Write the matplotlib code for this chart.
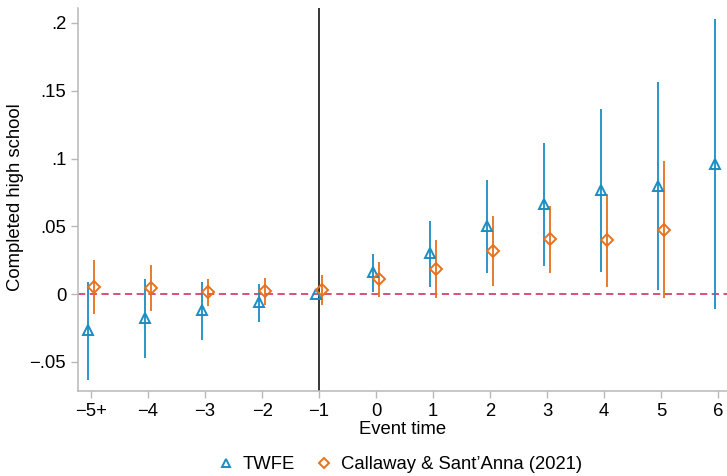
import numpy as np
from matplotlib import pyplot as plt
from matplotlib.lines import Line2D

plt.rcParams['font.family'] = ['Liberation Sans', 'DejaVu Sans']

# event times (-5 is binned as "-5+")
event_time = [-5, -4, -3, -2, -1, 0, 1, 2, 3, 4, 5, 6]
tick_labels = ['\u22125+', '\u22124', '\u22123', '\u22122', '\u22121', '0', '1', '2', '3', '4', '5', '6']

# TWFE estimates and 95% CI (reference period -1 has no CI)
twfe_est = [-0.0265, -0.0174, -0.0118, -0.0061, 0.0, 0.0164, 0.0300, 0.0505, 0.0667, 0.0770, 0.0800, 0.0963]
twfe_lo = [-0.0637, -0.0475, -0.0336, -0.0208, np.nan, 0.0012, 0.0054, 0.0157, 0.0206, 0.0160, 0.0030, -0.0113]
twfe_hi = [0.0086, 0.0113, 0.0086, 0.0071, np.nan, 0.0294, 0.0537, 0.0838, 0.1115, 0.1365, 0.1566, 0.2027]

# Callaway & Sant'Anna estimates (no estimate at 6)
cs_time = [-5, -4, -3, -2, -1, 0, 1, 2, 3, 4, 5]
cs_est = [0.0049, 0.0044, 0.0015, 0.0020, 0.0032, 0.0108, 0.0184, 0.0319, 0.0404, 0.0397, 0.0476]
cs_lo = [-0.0147, -0.0123, -0.0088, -0.0083, -0.0079, -0.0020, -0.0032, 0.0061, 0.0157, 0.0054, -0.0032]
cs_hi = [0.0250, 0.0213, 0.0108, 0.0115, 0.0140, 0.0238, 0.0397, 0.0574, 0.0652, 0.0740, 0.0980]

yticks = [-0.05, 0, 0.05, 0.1, 0.15, 0.2]
ytick_labels = ['\u2212.05', '0', '.05', '.1', '.15', '.2']

blue = '#1a8dc4'
orange = '#e8711a'
red = '#d6426b'
gray = '#b8b8b8'
fs = 13.3

fig = plt.figure(figsize=(7.27, 4.76), dpi=100)
ax = fig.add_axes([0.1073, 0.1786, 0.8927, 0.8045])

shift = 0.05
tx = np.array(event_time) - shift
cx = np.array(cs_time) + shift

ax.axhline(0, color=red, ls=(0, (4, 2.5)), lw=1.3, zorder=1)
ax.axvline(-1, color='black', lw=1.1, zorder=1)

ax.vlines(tx, twfe_lo, twfe_hi, color=blue, lw=1.3, zorder=2)
ax.vlines(cx, cs_lo, cs_hi, color=orange, lw=1.3, zorder=2)
ax.plot(tx, twfe_est, ls='none', marker='^', ms=6.5, mfc='none', mec=blue, mew=1.4, zorder=3)
ax.plot(cx, cs_est, ls='none', marker='D', ms=6, mfc='none', mec=orange, mew=1.4, zorder=3)

ax.set_xlim(-5.23, 6.16)
ax.set_ylim(-0.0715, 0.211)
ax.set_xticks(event_time)
ax.set_xticklabels(tick_labels)
ax.set_yticks(yticks)
ax.set_yticklabels(ytick_labels)
ax.tick_params(labelsize=fs, color=gray, length=5, width=1, labelcolor='black')

for s in ['top', 'right']:
    ax.spines[s].set_visible(False)
for s in ['left', 'bottom']:
    ax.spines[s].set_color(gray)
    ax.spines[s].set_linewidth(1.1)

ax.set_xlabel('Event time', fontsize=fs, labelpad=1)
ax.set_ylabel('Completed high school', fontsize=fs)
ax.yaxis.set_label_coords(-0.083, 0.506)

handles = [
    Line2D([], [], ls='none', marker='^', ms=6, mfc='none', mec=blue, mew=1.4),
    Line2D([], [], ls='none', marker='D', ms=5.5, mfc='none', mec=orange, mew=1.4),
]
fig.legend(handles, ['TWFE', 'Callaway & Sant\u2019Anna (2021)'], loc='center',
           bbox_to_anchor=(0.5495, 0.024), ncol=2, frameon=False, fontsize=fs,
           handlelength=1, handletextpad=0.4, columnspacing=1.1)

fig.savefig('out.png', dpi=100)
